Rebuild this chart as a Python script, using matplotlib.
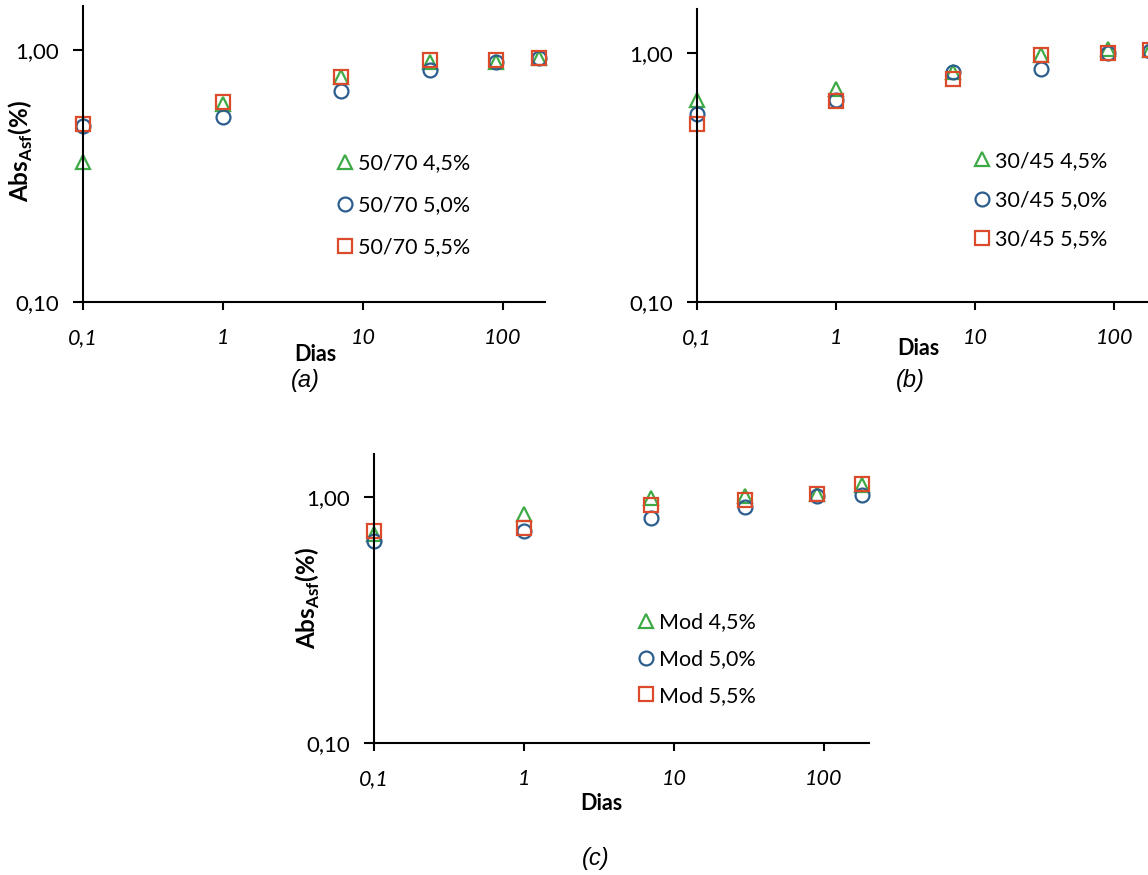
import matplotlib
matplotlib.use("Agg")
import matplotlib.pyplot as plt
from matplotlib.ticker import NullLocator

plt.rcParams['font.family'] = ['Lato', 'DejaVu Sans']
plt.rcParams['mathtext.fontset'] = 'custom'
plt.rcParams['mathtext.rm'] = 'Lato'
plt.rcParams['mathtext.bf'] = 'Lato:bold'

# dados
dias = [0.1, 1, 7, 30, 90, 180]

a_45 = [0.36, 0.61, 0.78, 0.90, 0.90, 0.93]
a_50 = [0.50, 0.54, 0.69, 0.83, 0.90, 0.93]
a_55 = [0.51, 0.62, 0.78, 0.91, 0.91, 0.93]

b_45 = [0.65, 0.72, 0.84, 0.98, 1.04, 1.03]
b_50 = [0.57, 0.65, 0.84, 0.86, 1.00, 1.02]
b_55 = [0.52, 0.64, 0.79, 0.98, 1.00, 1.03]

c_45 = [0.71, 0.85, 0.99, 1.01, 1.03, 1.12]
c_50 = [0.66, 0.73, 0.82, 0.91, 1.01, 1.02]
c_55 = [0.73, 0.75, 0.93, 0.97, 1.03, 1.13]

rotulos_a = ["50/70 4,5%", "50/70 5,0%", "50/70 5,5%"]
rotulos_b = ["30/45 4,5%", "30/45 5,0%", "30/45 5,5%"]
rotulos_c = ["Mod 4,5%", "Mod 5,0%", "Mod 5,5%"]

xticks = [0.1, 1, 10, 100]
xtick_labels = ["0,1", "1", "10", "100"]
yticks = [0.1, 1]
ytick_labels = ["0,10", "1,00"]

verde = "#3daa45"
azul = "#2c5d8f"
vermelho = "#dc4a2c"


def painel(pos, s45, s50, s55, rotulos, leg_xy, leg_esp, xlab_xy, ylab_xy=None):
    ax = fig.add_axes(pos)
    ax.plot(dias, s45, ls="none", marker="^", ms=10, mfc="none", mec=verde, mew=1.6,
            label=rotulos[0], clip_on=False)
    ax.plot(dias, s50, ls="none", marker="o", ms=10, mfc="none", mec=azul, mew=1.6,
            label=rotulos[1], clip_on=False)
    ax.plot(dias, s55, ls="none", marker="s", ms=10, mfc="none", mec=vermelho, mew=1.6,
            label=rotulos[2], clip_on=False)
    ax.set_xscale("log")
    ax.set_yscale("log")
    ax.set_xlim(0.1, 200)
    ax.set_ylim(0.1, 1.5)
    ax.set_xticks(xticks)
    ax.set_xticklabels(xtick_labels, fontstyle="italic", fontsize=15.5)
    ax.set_yticks(yticks)
    ax.set_yticklabels(ytick_labels, fontsize=16)
    ax.xaxis.set_minor_locator(NullLocator())
    ax.yaxis.set_minor_locator(NullLocator())
    for s in ["top", "right"]:
        ax.spines[s].set_visible(False)
    for s in ["left", "bottom"]:
        ax.spines[s].set_linewidth(1.5)
    ax.tick_params(axis="x", direction="out", length=6, width=1.5, pad=12.5)
    ax.tick_params(axis="y", direction="out", length=7, width=1.5, pad=10.5)
    ax.set_xlabel("Dias", fontweight="bold", fontsize=15.5)
    ax.xaxis.set_label_coords(*xlab_xy)
    if ylab_xy is not None:
        ax.set_ylabel(r"Abs$_{\mathbf{Asf}}$(%)", fontweight="bold", fontsize=17.5)
        ax.yaxis.set_label_coords(*ylab_xy)
    ax.legend(loc="upper left", bbox_to_anchor=leg_xy, frameon=False, fontsize=15.5,
              handletextpad=0.1, labelspacing=leg_esp, borderaxespad=0, handlelength=1.0)
    return ax


fig = plt.figure(figsize=(11.48, 8.75), dpi=100)

painel([0.0723, 0.6549, 0.4024, 0.3387], a_45, a_50, a_55, rotulos_a,
       (0.525, 0.531), 1.03, (0.503, -0.142), (-0.104, 0.51))
painel([0.6071, 0.6549, 0.3998, 0.3346], b_45, b_50, b_55, rotulos_b,
       (0.578, 0.546), 0.9, (0.482, -0.123))
painel([0.3258, 0.1509, 0.4312, 0.3306], c_45, c_50, c_55, rotulos_c,
       (0.510, 0.481), 0.78, (0.459, -0.173), (-0.105, 0.502))

fonte_sub = ["Liberation Sans", "DejaVu Sans"]
fig.text(305 / 1148, 1 - 380 / 875, "(a)", fontstyle="italic", fontsize=17,
         family=fonte_sub, ha="center", va="center")
fig.text(910 / 1148, 1 - 380 / 875, "(b)", fontstyle="italic", fontsize=17,
         family=fonte_sub, ha="center", va="center")
fig.text(596 / 1148, 1 - 858 / 875, "(c)", fontstyle="italic", fontsize=17,
         family=fonte_sub, ha="center", va="center")

fig.savefig("out.png", dpi=100)
